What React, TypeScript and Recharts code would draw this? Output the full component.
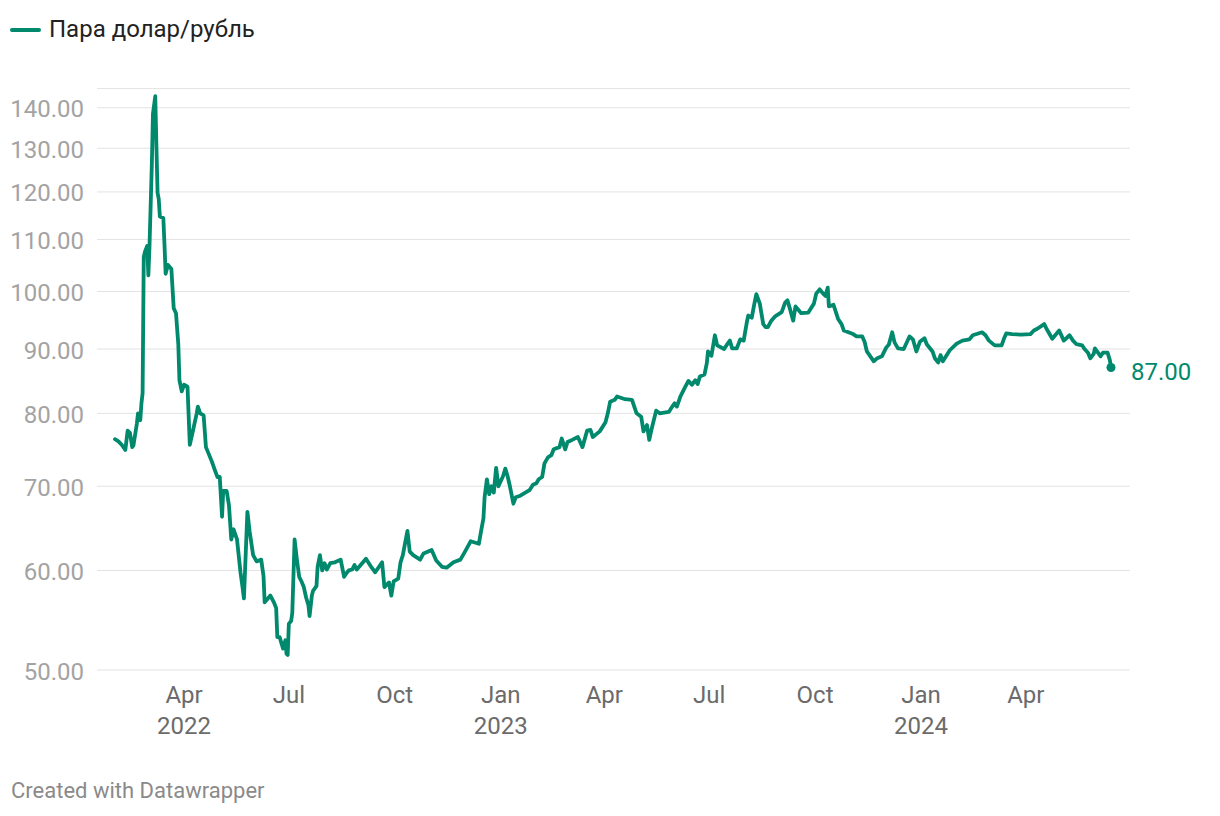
import React from 'react';
import { LineChart, Line, XAxis, YAxis, CartesianGrid } from 'recharts';

// Exchange rate readings (USD/RUB), irregularly sampled
const dates = [
  '2022-01-31', '2022-02-03', '2022-02-06', '2022-02-09', '2022-02-11', '2022-02-13', '2022-02-15', '2022-02-16',
  '2022-02-19', '2022-02-20', '2022-02-22', '2022-02-23', '2022-02-24', '2022-02-25', '2022-02-26', '2022-02-28',
  '2022-03-01', '2022-03-02', '2022-03-04', '2022-03-05', '2022-03-07', '2022-03-08', '2022-03-09', '2022-03-10',
  '2022-03-11', '2022-03-14', '2022-03-15', '2022-03-16', '2022-03-18', '2022-03-21', '2022-03-23', '2022-03-25',
  '2022-03-27', '2022-03-28', '2022-03-30', '2022-04-01', '2022-04-04', '2022-04-06', '2022-04-09', '2022-04-12',
  '2022-04-13', '2022-04-15', '2022-04-18', '2022-04-20', '2022-04-25', '2022-04-28', '2022-04-30', '2022-05-02',
  '2022-05-04', '2022-05-05', '2022-05-08', '2022-05-10', '2022-05-12', '2022-05-14', '2022-05-17', '2022-05-20',
  '2022-05-22', '2022-05-23', '2022-05-26', '2022-05-28', '2022-05-31', '2022-06-03', '2022-06-07', '2022-06-09',
  '2022-06-10', '2022-06-15', '2022-06-18', '2022-06-20', '2022-06-21', '2022-06-23', '2022-06-26', '2022-06-28',
  '2022-06-29', '2022-06-30', '2022-07-01', '2022-07-03', '2022-07-04', '2022-07-06', '2022-07-08', '2022-07-10',
  '2022-07-12', '2022-07-14', '2022-07-16', '2022-07-18', '2022-07-19', '2022-07-21', '2022-07-22', '2022-07-25',
  '2022-07-26', '2022-07-28', '2022-07-30', '2022-08-01', '2022-08-03', '2022-08-06', '2022-08-10', '2022-08-15',
  '2022-08-18', '2022-08-20', '2022-08-22', '2022-08-25', '2022-08-27', '2022-08-29', '2022-09-04', '2022-09-06',
  '2022-09-11', '2022-09-14', '2022-09-20', '2022-09-22', '2022-09-26', '2022-09-28', '2022-09-30', '2022-10-04',
  '2022-10-06', '2022-10-08', '2022-10-10', '2022-10-12', '2022-10-14', '2022-10-17', '2022-10-23', '2022-10-26',
  '2022-11-02', '2022-11-06', '2022-11-11', '2022-11-15', '2022-11-21', '2022-11-27', '2022-12-01', '2022-12-06',
  '2022-12-13', '2022-12-15', '2022-12-17', '2022-12-18', '2022-12-20', '2022-12-22', '2022-12-24', '2022-12-26',
  '2022-12-28', '2022-12-30', '2023-01-03', '2023-01-05', '2023-01-07', '2023-01-09', '2023-01-12', '2023-01-14',
  '2023-01-18', '2023-01-26', '2023-01-29', '2023-02-01', '2023-02-03', '2023-02-06', '2023-02-08', '2023-02-11',
  '2023-02-14', '2023-02-16', '2023-02-21', '2023-02-23', '2023-02-26', '2023-02-28', '2023-03-04', '2023-03-09',
  '2023-03-13', '2023-03-17', '2023-03-20', '2023-03-22', '2023-03-28', '2023-04-02', '2023-04-04', '2023-04-06',
  '2023-04-10', '2023-04-12', '2023-04-19', '2023-04-25', '2023-04-29', '2023-05-03', '2023-05-05', '2023-05-08',
  '2023-05-10', '2023-05-12', '2023-05-16', '2023-05-19', '2023-05-27', '2023-05-30', '2023-06-01', '2023-06-03',
  '2023-06-06', '2023-06-10', '2023-06-13', '2023-06-16', '2023-06-19', '2023-06-21', '2023-06-23', '2023-06-27',
  '2023-06-29', '2023-06-30', '2023-07-03', '2023-07-06', '2023-07-08', '2023-07-14', '2023-07-16', '2023-07-19',
  '2023-07-21', '2023-07-25', '2023-07-28', '2023-07-31', '2023-08-03', '2023-08-04', '2023-08-07', '2023-08-09',
  '2023-08-11', '2023-08-14', '2023-08-17', '2023-08-19', '2023-08-21', '2023-08-24', '2023-08-27', '2023-09-02',
  '2023-09-05', '2023-09-07', '2023-09-09', '2023-09-12', '2023-09-14', '2023-09-19', '2023-09-25', '2023-09-30',
  '2023-10-02', '2023-10-05', '2023-10-08', '2023-10-10', '2023-10-12', '2023-10-13', '2023-10-17', '2023-10-21',
  '2023-10-24', '2023-10-26', '2023-10-30', '2023-11-03', '2023-11-06', '2023-11-11', '2023-11-13', '2023-11-15',
  '2023-11-21', '2023-11-24', '2023-11-28', '2023-12-02', '2023-12-04', '2023-12-07', '2023-12-09', '2023-12-12',
  '2023-12-17', '2023-12-22', '2023-12-25', '2023-12-28', '2023-12-31', '2024-01-04', '2024-01-06', '2024-01-11',
  '2024-01-13', '2024-01-16', '2024-01-18', '2024-01-20', '2024-01-26', '2024-02-01', '2024-02-06', '2024-02-12',
  '2024-02-15', '2024-02-23', '2024-02-26', '2024-02-29', '2024-03-05', '2024-03-11', '2024-03-13', '2024-03-15',
  '2024-03-20', '2024-03-28', '2024-04-05', '2024-04-08', '2024-04-11', '2024-04-17', '2024-04-19', '2024-04-24',
  '2024-04-30', '2024-05-04', '2024-05-09', '2024-05-12', '2024-05-15', '2024-05-20', '2024-05-22', '2024-05-25',
  '2024-05-27', '2024-05-30', '2024-05-31', '2024-06-05', '2024-06-07', '2024-06-11', '2024-06-13', '2024-06-14',
];

const rates = [
  76.3, 76.0, 75.5, 74.8, 77.5, 77.2, 75.2, 75.4,
  78.5, 80.0, 79.0, 81.5, 83.0, 106.5, 107.5, 108.7,
  103.0, 108.7, 126.0, 138.5, 143.0, 130.5, 119.8, 118.5,
  114.7, 114.4, 109.0, 103.3, 105.0, 104.2, 97.0, 96.1,
  90.8, 85.0, 83.3, 84.3, 84.0, 75.5, 77.7, 80.0,
  81.0, 80.0, 79.7, 75.2, 73.3, 72.0, 71.2, 71.2,
  66.2, 69.4, 69.4, 67.6, 63.5, 64.7, 63.5, 59.8,
  58.0, 57.0, 66.8, 64.4, 61.7, 61.0, 61.2, 59.4,
  56.6, 57.3, 56.6, 56.0, 53.1, 53.1, 52.0, 52.8,
  51.5, 51.4, 54.4, 54.7, 55.5, 63.5, 61.2, 59.3,
  58.8, 58.2, 57.1, 56.3, 55.2, 57.3, 57.8, 58.3,
  60.4, 61.7, 60.0, 60.8, 60.1, 60.8, 60.9, 61.2,
  59.3, 59.7, 60.0, 60.1, 60.6, 60.1, 61.0, 61.3,
  60.3, 59.8, 60.9, 58.2, 58.7, 57.3, 58.8, 59.1,
  60.9, 61.7, 63.1, 64.5, 62.1, 61.7, 61.2, 61.9,
  62.3, 61.1, 60.4, 60.3, 60.9, 61.2, 62.1, 63.3,
  63.0, 64.5, 66.0, 68.6, 70.9, 69.0, 70.0, 69.2,
  72.4, 70.0, 71.3, 72.3, 71.3, 70.0, 67.8, 68.6,
  68.8, 69.5, 70.2, 70.4, 70.9, 71.2, 73.0, 73.8,
  74.1, 74.9, 75.2, 76.4, 74.9, 75.9, 76.2, 76.6,
  75.2, 77.5, 77.6, 76.6, 77.4, 78.7, 80.0, 81.7,
  82.0, 82.5, 82.1, 82.0, 80.0, 79.5, 77.4, 78.3,
  76.2, 77.7, 80.4, 80.0, 80.2, 81.0, 81.5, 81.0,
  82.5, 83.9, 84.9, 84.3, 85.0, 84.4, 85.6, 85.9,
  87.7, 89.6, 88.9, 92.3, 90.6, 90.0, 90.6, 91.4,
  90.1, 90.1, 91.6, 91.4, 94.8, 95.7, 95.3, 97.5,
  99.5, 97.8, 94.2, 93.7, 93.7, 94.8, 95.5, 96.3,
  98.0, 98.4, 97.0, 94.8, 97.3, 96.1, 96.2, 97.8,
  99.6, 100.4, 99.6, 99.2, 100.7, 97.3, 97.6, 95.1,
  94.2, 93.1, 92.8, 92.5, 92.1, 92.1, 91.2, 89.6,
  88.0, 88.5, 88.8, 90.3, 90.7, 92.8, 91.1, 90.1,
  90.0, 92.1, 91.6, 89.6, 91.2, 91.8, 90.8, 89.6,
  88.5, 87.8, 89.0, 88.0, 89.8, 90.9, 91.4, 91.6,
  92.3, 92.8, 92.3, 91.4, 90.6, 90.6, 91.7, 92.6,
  92.5, 92.4, 92.5, 93.1, 93.4, 94.2, 93.4, 91.7,
  93.1, 91.4, 92.3, 91.4, 90.8, 90.6, 90.0, 89.4,
  88.5, 89.2, 90.1, 88.8, 89.4, 89.4, 88.2, 87.0,
];

const yTicks = [50, 60, 70, 80, 90, 100, 110, 120, 130, 140];
const xTickDates = ['2022-04-01', '2022-07-01', '2022-10-01', '2023-01-01', '2023-04-01', '2023-07-01', '2023-10-01', '2024-01-01', '2024-04-01'];
const xTickMonths = ['Apr', 'Jul', 'Oct', 'Jan', 'Apr', 'Jul', 'Oct', 'Jan', 'Apr'];
const xTickYears = ['2022', '', '', '2023', '', '', '', '2024', ''];

const GREEN = '#00896c';
const FONT = 'Roboto, sans-serif';
const DAY0 = Date.parse('2022-01-01');
const toDay = (s: string) => (Date.parse(s) - DAY0) / 86400000;

const data = dates.map((d, i) => ({ day: toDay(d), rate: rates[i] }));
const xTicks = xTickDates.map(toDay);

const XTick = (props: any) => {
  const { x, y, index } = props;
  return (
    <g>
      <text x={x} y={y + 33} textAnchor="middle" fill="#6b6b6b" fontSize={24} fontFamily={FONT}>
        {xTickMonths[index]}
      </text>
      {xTickYears[index] ? (
        <text x={x} y={y + 64} textAnchor="middle" fill="#6b6b6b" fontSize={24} fontFamily={FONT}>
          {xTickYears[index]}
        </text>
      ) : null}
    </g>
  );
};

const YTick = (props: any) => {
  const { x, y, payload } = props;
  return (
    <text x={x} y={y + 9.5} textAnchor="end" fill="#a3a3a3" fontSize={24} fontFamily={FONT}>
      {payload.value.toFixed(2)}
    </text>
  );
};

// only the last point gets a dot plus its value label
const EndDot = (props: any) => {
  const { cx, cy, index } = props;
  if (index !== data.length - 1) return <g key={`d${index}`} />;
  return (
    <g key="end">
      <circle cx={cx} cy={cy} r={4.5} fill={GREEN} />
      <text x={cx + 20} y={cy + 12.5} fill={GREEN} fontSize={24} fontFamily={FONT}>
        {rates[rates.length - 1].toFixed(2)}
      </text>
    </g>
  );
};

const App: React.FC = () => {
  return (
    <div style={{ position: 'absolute', left: 0, top: 0, width: 1220, height: 816, background: '#fff', fontFamily: FONT }}>
      <div style={{ position: 'absolute', left: 10, top: 28, width: 31, height: 4, borderRadius: 2, background: GREEN }} />
      <div style={{ position: 'absolute', left: 49, top: 17.1, fontSize: 24, lineHeight: '24px', color: '#222' }}>
        Пара долар/рубль
      </div>

      <div style={{ position: 'absolute', left: 0, top: 0 }}>
        <LineChart width={1220} height={816} data={data} margin={{ top: 88.6, right: 90, bottom: 76, left: 0 }}>
          <CartesianGrid vertical={false} stroke="#e3e3e3" strokeWidth={1} />
          <XAxis
            dataKey="day"
            type="number"
            domain={[14.4, 911.5]}
            ticks={xTicks}
            interval={0}
            tick={<XTick />}
            axisLine={false}
            tickLine={false}
            tickSize={0}
            tickMargin={0}
            height={70}
          />
          <YAxis
            type="number"
            scale="log"
            domain={[50, 145]}
            ticks={yTicks}
            interval={0}
            tick={<YTick />}
            axisLine={false}
            tickLine={false}
            tickSize={0}
            tickMargin={13}
            width={97}
          />
          <Line
            type="linear"
            dataKey="rate"
            stroke={GREEN}
            strokeWidth={3.8}
            strokeLinejoin="round"
            strokeLinecap="round"
            dot={EndDot}
            activeDot={false}
            isAnimationActive={false}
          />
        </LineChart>
      </div>

      <div style={{ position: 'absolute', left: 11, top: 779.8, fontSize: 22, lineHeight: '22px', color: '#8a8a8a' }}>
        Created with Datawrapper
      </div>
    </div>
  );
};

export default App;
